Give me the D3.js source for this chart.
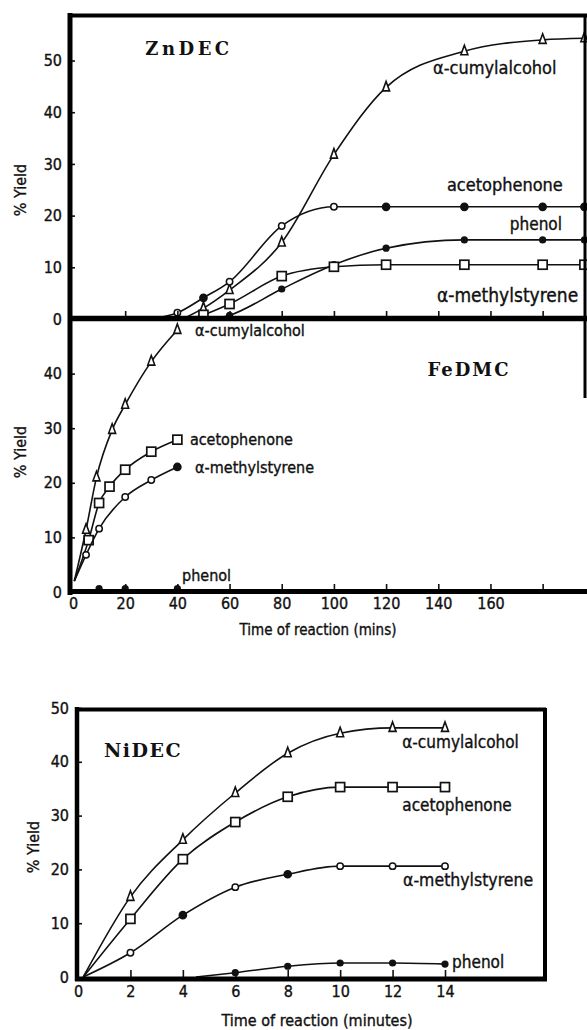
<!DOCTYPE html>
<html>
<meta charset="utf-8">
<script src="https://d3js.org/d3.v7.min.js"></script>
<style>
    body { margin: 0; background: #fff; }
    svg { display: block; }
    .lbl, .ttl, .tick text {
        font-family: "DejaVu Sans Condensed", "DejaVu Sans", sans-serif;
        font-stretch: condensed;
        fill: #111;
        stroke: #111;
        stroke-width: 0.35px;
    }
    .tick text { font-size: 16px; }
    .ttl { font-size: 15px; }
    .cat {
        font-family: "DejaVu Serif", serif;
        font-weight: bold;
        font-size: 18px;
        letter-spacing: 2px;
        fill: #111;
    }
    .tick line { stroke: #111; stroke-width: 1.6px; }
    .domain { display: none; }
</style>
<body>
<svg width="587" height="1030"></svg>
<script>
    // ---- ZnDEC (time in mins) : first point of each series is where the curve leaves zero
    const znCumylT = [42, 50, 60, 80, 100, 120, 150, 180, 196];
    const znCumylY = [0, 2.1, 5.6, 14.8, 31.8, 44.8, 51.8, 54.0, 54.3];
    const znAcetoT = [30, 40, 50, 60, 80, 100, 120, 150, 180, 196];
    const znAcetoY = [0, 1.2, 4.1, 7.2, 18.0, 21.7, 21.7, 21.7, 21.7, 21.7];
    const znPhenolT = [55, 60, 80, 100, 120, 150, 180, 196];
    const znPhenolY = [0, 0.7, 5.8, 10.5, 13.7, 15.3, 15.3, 15.3];
    const znMethylT = [45, 50, 60, 80, 100, 120, 150, 180, 196];
    const znMethylY = [0, 0.8, 2.9, 8.3, 10.1, 10.5, 10.5, 10.5, 10.5];

    // ---- FeDMC (time in mins)
    const feCumylT = [0.5, 5, 9, 15, 20, 30, 40];
    const feCumylY = [2, 11.4, 21.0, 29.7, 34.3, 42.2, 48.0];
    const feAcetoT = [0.5, 6, 10, 14, 20, 30, 40];
    const feAcetoY = [2, 9.5, 16.3, 19.3, 22.4, 25.7, 27.9];
    const feMethylT = [0.5, 5, 10, 20, 30, 40];
    const feMethylY = [2, 6.8, 11.6, 17.4, 20.5, 22.9];
    const fePhenolT = [10, 20, 40];
    const fePhenolY = [0.6, 0.6, 0.6];

    // ---- NiDEC (time in minutes)
    const niCumylT = [0.2, 2, 4, 6, 8, 10, 12, 14];
    const niCumylY = [0, 14.9, 25.5, 34.2, 41.6, 45.3, 46.3, 46.3];
    const niAcetoT = [0.2, 2, 4, 6, 8, 10, 12, 14];
    const niAcetoY = [0, 10.8, 21.9, 28.8, 33.5, 35.3, 35.3, 35.3];
    const niMethylT = [0.2, 2, 4, 6, 8, 10, 12, 14];
    const niMethylY = [0, 4.5, 11.5, 16.7, 19.1, 20.6, 20.6, 20.6];
    const niPhenolT = [4.5, 6, 8, 10, 12, 14];
    const niPhenolY = [0, 0.8, 2.0, 2.6, 2.6, 2.4];

    const minsTicks = [0, 20, 40, 60, 80, 100, 120, 140, 160];
    const minsMarks = [20, 40, 60, 80, 100, 120, 140, 160, 180];
    const minuteTicks = [0, 2, 4, 6, 8, 10, 12, 14];
    const yieldTicks = [0, 10, 20, 30, 40, 50];

    let svg = d3.select("svg");

    // scales
    let xMin = d3.scaleLinear().domain([0, 197]).range([73, 587]);
    let yZn = d3.scaleLinear().domain([0, 59]).range([319, 14]);
    let yFe = d3.scaleLinear().domain([0, 50]).range([592, 319]);
    let xNi = d3.scaleLinear().domain([0, 14]).range([78, 445]);
    let yNi = d3.scaleLinear().domain([0, 50]).range([977, 708]);

    const zip = (t, y) => t.map((d, i) => ({ t: d, v: y[i] }));

    // series: marker kind, which points carry a marker, filled flags
    const panels = [
        {
            x: xMin, y: yZn, series: [
                { pts: zip(znCumylT, znCumylY), mark: "tri", from: 1 },
                { pts: zip(znAcetoT, znAcetoY), mark: "circ", from: 1, fill: [0, 0, 1, 0, 0, 0, 1, 1, 1, 1] },
                { pts: zip(znPhenolT, znPhenolY), mark: "dot", from: 1 },
                { pts: zip(znMethylT, znMethylY), mark: "sq", from: 1 }
            ]
        },
        {
            x: xMin, y: yFe, series: [
                { pts: zip(feCumylT, feCumylY), mark: "tri", from: 1 },
                { pts: zip(feAcetoT, feAcetoY), mark: "sq", from: 1 },
                { pts: zip(feMethylT, feMethylY), mark: "circ", from: 1, fill: [0, 0, 0, 0, 0, 1] },
                { pts: zip(fePhenolT, fePhenolY), mark: "dot", from: 0, noLine: true }
            ]
        },
        {
            x: xNi, y: yNi, series: [
                { pts: zip(niCumylT, niCumylY), mark: "tri", from: 1 },
                { pts: zip(niAcetoT, niAcetoY), mark: "sq", from: 1 },
                { pts: zip(niMethylT, niMethylY), mark: "circ", from: 1, fill: [0, 0, 1, 0, 1, 0, 0, 0] },
                { pts: zip(niPhenolT, niPhenolY), mark: "dot", from: 1 }
            ]
        }
    ];

    // curves
    panels.forEach(p => {
        let line = d3.line().x(d => p.x(d.t)).y(d => p.y(d.v)).curve(d3.curveMonotoneX);
        let g = svg.append("g");
        p.series.forEach(s => {
            if (!s.noLine) {
                g.append("path").attr("d", line(s.pts))
                    .style("fill", "none").style("stroke", "#111").style("stroke-width", "1.6px");
            }
            s.pts.forEach((d, i) => {
                if (i < s.from) return;
                let cx = p.x(d.t), cy = p.y(d.v);
                if (s.mark === "tri") {
                    g.append("path").attr("d", `M${cx},${cy - 6}L${cx + 3.5},${cy + 3.5}L${cx - 3.5},${cy + 3.5}Z`)
                        .style("fill", "#fff").style("stroke", "#111").style("stroke-width", "1.6px");
                } else if (s.mark === "sq") {
                    g.append("rect").attr("x", cx - 4.5).attr("y", cy - 4.5).attr("width", 9).attr("height", 9)
                        .style("fill", "#fff").style("stroke", "#111").style("stroke-width", "1.7px");
                } else if (s.mark === "circ") {
                    let f = s.fill && s.fill[i];
                    g.append("circle").attr("cx", cx).attr("cy", cy).attr("r", f ? 3.6 : 3.2)
                        .style("fill", f ? "#111" : "#fff").style("stroke", "#111").style("stroke-width", "1.5px");
                } else {
                    g.append("circle").attr("cx", cx).attr("cy", cy).attr("r", 3.6).style("fill", "#111");
                }
            });
        });
    });

    // axes (ticks point into the plot)
    function yAxis(scale, x, values) {
        svg.append("g").attr("transform", `translate(${x},0)`)
            .call(d3.axisLeft(scale).tickValues(values).tickSizeInner(-5).tickSizeOuter(0).tickPadding(8));
    }
    yAxis(yZn, 70, [0, 10, 20, 30, 40, 50]);
    yAxis(yFe, 70, [0, 10, 20, 30, 40]);
    yAxis(yNi, 77, yieldTicks);
    svg.selectAll(".tick").filter(d => d === 0).select("line").remove();

    svg.append("g").attr("transform", "translate(0,317)")
        .call(d3.axisTop(xMin).tickValues(minsMarks).tickSize(6).tickFormat(""));
    svg.append("g").attr("transform", "translate(0,590)")
        .call(d3.axisTop(xMin).tickValues(minsMarks).tickSize(6).tickFormat(""));
    svg.append("g").attr("transform", "translate(0,592)")
        .call(d3.axisBottom(xMin).tickValues(minsTicks).tickSize(0).tickPadding(6));
    svg.append("g").attr("transform", "translate(0,977)")
        .call(d3.axisTop(xNi).tickValues(minuteTicks.slice(1)).tickSize(7).tickFormat(""));
    svg.append("g").attr("transform", "translate(0,978)")
        .call(d3.axisBottom(xNi).tickValues(minuteTicks).tickSize(0).tickPadding(8));

    // frames
    const frame = (x1, y1, x2, y2, w) => svg.append("line")
        .attr("x1", x1).attr("y1", y1).attr("x2", x2).attr("y2", y2)
        .style("stroke", "#000").style("stroke-width", w + "px");
    frame(70, 13, 70, 595, 5);
    frame(68, 15.5, 587, 15.5, 4);
    frame(68, 318.5, 587, 318.5, 5.5);
    frame(68, 591.5, 587, 591.5, 5);
    frame(585, 14, 585, 398, 3);
    frame(77, 707, 77, 981, 4.5);
    frame(75, 709.5, 546, 709.5, 4);
    frame(545, 708, 545, 981, 4);
    frame(75, 979, 547, 979, 5);

    // series labels (anchored in data units)
    const labels = [
        { x: xMin, y: yZn, t: 138, v: 48.7, s: "α-cumylalcohol", fs: 18 },
        { x: xMin, y: yZn, t: 143.3, v: 25.9, s: "acetophenone", fs: 18 },
        { x: xMin, y: yZn, t: 187.4, v: 18.4, s: "phenol", end: true, fs: 17 },
        { x: xMin, y: yZn, t: 139.5, v: 4.6, s: "α-methylstyrene", fs: 19 },
        { x: xMin, y: yFe, t: 46.8, v: 47.9, s: "α-cumylalcohol", fs: 16 },
        { x: xMin, y: yFe, t: 44.8, v: 27.9, s: "acetophenone", fs: 16 },
        { x: xMin, y: yFe, t: 46.8, v: 22.9, s: "α-methylstyrene", fs: 16 },
        { x: xMin, y: yFe, t: 41.8, v: 3.1, s: "phenol", fs: 16 },
        { x: xNi, y: yNi, t: 12.37, v: 43.7, s: "α-cumylalcohol", fs: 17 },
        { x: xNi, y: yNi, t: 12.37, v: 32, s: "acetophenone", fs: 17 },
        { x: xNi, y: yNi, t: 12.4, v: 18, s: "α-methylstyrene", fs: 17.5 },
        { x: xNi, y: yNi, t: 14.27, v: 2.8, s: "phenol", fs: 17 }
    ];
    svg.append("g").selectAll("text").data(labels).enter().append("text")
        .attr("class", "lbl")
        .attr("x", d => d.x(d.t)).attr("y", d => d.y(d.v))
        .attr("dy", "0.35em")
        .attr("text-anchor", d => d.end ? "end" : "start")
        .style("font-size", d => d.fs + "px")
        .text(d => d.s);

    // catalyst names
    svg.append("text").attr("class", "cat").attr("x", 189).attr("y", 55).attr("text-anchor", "middle")
        .style("letter-spacing", "3.5px").text("ZnDEC");
    svg.append("text").attr("class", "cat").attr("x", 469).attr("y", 376).attr("text-anchor", "middle").text("FeDMC");
    svg.append("text").attr("class", "cat").attr("x", 143).attr("y", 757).attr("text-anchor", "middle")
        .style("font-size", "19px").style("letter-spacing", "1.5px").text("NiDEC");

    // axis titles
    const yTitle = (x, y) => svg.append("text").attr("class", "ttl")
        .attr("transform", `translate(${x},${y}) rotate(-90)`).attr("text-anchor", "middle")
        .style("font-size", "16px").text("% Yield");
    yTitle(26, 190);
    yTitle(26, 452);
    yTitle(39, 847);
    svg.append("text").attr("class", "ttl").attr("x", 318).attr("y", 635).attr("text-anchor", "middle").text("Time of reaction (mins)");
    svg.append("text").attr("class", "ttl").attr("x", 317).attr("y", 1026).attr("text-anchor", "middle")
        .style("font-size", "16px").text("Time of reaction (minutes)");
</script>
</body>
</html>
